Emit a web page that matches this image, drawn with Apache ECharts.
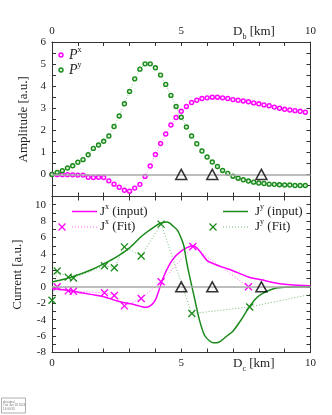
<!DOCTYPE html>
<html>
<head>
<meta charset="utf-8">
<script src="https://cdn.jsdelivr.net/npm/echarts@6/dist/echarts.min.js"></script>
<style>
  html, body { margin: 0; padding: 0; background: #fff; }
  #chart { width: 332px; height: 415px; }
</style>
</head>
<body>
<div id="chart"></div>
<script>
// top panel: sampled amplitudes
var xs = [0, 0.2, 0.4, 0.6, 0.8, 1, 1.2, 1.4, 1.6, 1.8, 2, 2.2, 2.4, 2.6, 2.8, 3, 3.2, 3.4, 3.6, 3.8,
  4, 4.2, 4.4, 4.6, 4.8, 5, 5.2, 5.4, 5.6, 5.8, 6, 6.2, 6.4, 6.6, 6.8, 7, 7.2, 7.4, 7.6, 7.8,
  8, 8.2, 8.4, 8.6, 8.8, 9, 9.2, 9.4, 9.6, 9.8];
var px = [0, -0.01, -0.01, -0.01, -0.02, -0.03, -0.03, -0.13, -0.14, -0.13, -0.14, -0.29, -0.44, -0.58, -0.72, -0.76, -0.62, -0.45, -0.09, 0.38,
  0.9, 1.4, 1.83, 2.24, 2.58, 2.86, 3.08, 3.26, 3.36, 3.44, 3.47, 3.5, 3.5, 3.47, 3.44, 3.39, 3.36, 3.33, 3.29, 3.24,
  3.2, 3.15, 3.11, 3.05, 3.0, 2.95, 2.92, 2.89, 2.86, 2.82];
var py = [0, 0.09, 0.17, 0.29, 0.39, 0.55, 0.67, 0.89, 1.18, 1.33, 1.5, 1.74, 2.17, 2.65, 3.2, 3.76, 4.33, 4.77, 5.01, 5.01,
  4.83, 4.5, 4.08, 3.58, 3.08, 2.59, 2.15, 1.74, 1.39, 1.06, 0.79, 0.56, 0.36, 0.18, 0.05, -0.08, -0.17, -0.24, -0.3, -0.35,
  -0.39, -0.41, -0.44, -0.45, -0.47, -0.48, -0.48, -0.5, -0.5, -0.5];

// bottom panel: input currents (solid)
var jxInX = [0, 0.5, 1, 1.5, 2, 2.5, 2.8, 3.1, 3.4, 3.65, 3.85, 4, 4.12, 4.3, 4.57, 4.8, 5, 5.2, 5.45, 5.6,
  5.8, 6, 6.3, 6.6, 7, 7.6, 8.1, 8.6, 9, 9.5, 10];
var jxIn = [-0.2, -0.4, -0.65, -0.92, -1.2, -1.7, -1.95, -2.1, -2.35, -2.5, -2.2, -1.6, -0.6, 1.1, 2.86, 3.8, 4.35, 4.75, 5.0, 4.75,
  4.0, 3.2, 2.75, 2.4, 1.95, 1.2, 0.85, 0.5, 0.3, 0.18, 0.12];
var jyInX = [0, 0.5, 1, 1.5, 2, 2.5, 3, 3.5, 4, 4.25, 4.45, 4.7, 4.85, 5, 5.1, 5.2, 5.3, 5.5, 5.7, 5.9,
  6.1, 6.25, 6.45, 6.8, 7, 7.3, 7.6, 7.9, 8.15, 8.6, 9, 10];
var jyIn = [0.6, 0.95, 1.45, 2.05, 2.8, 3.65, 4.75, 6.25, 7.4, 7.8, 7.88, 7.35, 6.9, 5.9, 5.0, 3.2, 1.6, -1.2, -4.0, -5.9,
  -6.6, -6.82, -6.75, -5.9, -5.4, -4.1, -2.6, -1.4, -0.8, -0.2, -0.05, 0];

// bottom panel: fitted currents (crosses)
var jxFitX = [0.2, 0.63, 0.83, 2.03, 2.41, 2.8, 3.45, 4.22, 5.45, 7.6];
var jxFit = [0.0, -0.49, -0.53, -0.73, -1.05, -2.32, -1.42, 0.61, 4.9, 0.0];
var jyFitX = [0, 0.2, 0.63, 0.83, 2.03, 2.41, 2.8, 3.45, 4.22, 5.41, 7.65, 10.4];
var jyFit = [-1.63, 1.92, 1.18, 1.08, 2.57, 2.33, 4.86, 3.76, 7.64, -3.26, -2.45, -0.67];

// triangles on the zero line
var triX = [5.0, 6.2, 8.1];
var triY = [0, 0, 0];

var MAG = '#ff00ff', GRN = '#1a8a1a';
var SERIF = '"Liberation Serif", "DejaVu Serif", serif';
var CROSS = 'path://M0,0L10,10M10,0L0,10';

function pairs(a, b) { return a.map(function (v, i) { return [v, b[i]]; }); }

function xAx(grid, pos, labels) {
  return {
    type: 'value', gridIndex: grid, position: pos, min: 0, max: 10, interval: 1,
    axisLine: { onZero: false, lineStyle: { color: '#333', width: 1 } },
    axisTick: { inside: true, length: 4, lineStyle: { color: '#333' } },
    axisLabel: {
      show: labels, margin: 5, fontFamily: SERIF, fontSize: 11, color: '#222',
      formatter: function (v) { return v % 5 === 0 ? String(v) : ''; }
    },
    splitLine: { show: false }
  };
}
function yAx(grid, pos, min, max, iv, labels, fmt, name) {
  return {
    type: 'value', gridIndex: grid, position: pos, min: min, max: max, interval: iv,
    name: name || '', nameLocation: 'middle', nameGap: 17,
    nameTextStyle: { fontFamily: SERIF, fontSize: 13, color: '#222' },
    axisLine: { onZero: false, lineStyle: { color: '#333', width: 1 } },
    axisTick: { inside: true, length: 4, lineStyle: { color: '#333' } },
    axisLabel: { show: labels, margin: 6, fontFamily: SERIF, fontSize: 11, color: '#222', formatter: fmt },
    splitLine: { show: false }
  };
}

var supRich = {
  m: { fontSize: 13, lineHeight: 18, fontFamily: SERIF },
  i: { fontSize: 14, lineHeight: 18, fontFamily: SERIF, fontStyle: 'italic' },
  s: { fontSize: 8, lineHeight: 9, fontFamily: SERIF, verticalAlign: 'top' },
  b: { fontSize: 8, lineHeight: 9, fontFamily: SERIF, verticalAlign: 'bottom' }
};
function rt(text, x, y) {
  return { type: 'text', x: x, y: y, style: { text: text, rich: supRich, fill: '#222', verticalAlign: 'middle' } };
}
function seg(x1, x2, y1, y2, color, w, dash, op) {
  return { type: 'line', shape: { x1: x1, y1: y1, x2: x2, y2: y2 },
    style: { stroke: color, lineWidth: w, lineDash: dash, opacity: op } };
}
function sample(x1, x2, y, color, dotted) {
  return dotted ? seg(x1, x2, y, y, color, 1, [1, 2], 0.6) : seg(x1, x2, y, y, color, 1.5, null, 1);
}
function crossAt(x, y, color) {
  return { type: 'group', children: [
    seg(x - 3.5, x + 3.5, y - 3.5, y + 3.5, color, 1.3, null, 1),
    seg(x + 3.5, x - 3.5, y - 3.5, y + 3.5, color, 1.3, null, 1)
  ] };
}
function dotAt(x, y, color, fill) {
  return { type: 'circle', shape: { cx: x, cy: y, r: 2 }, style: { fill: fill, stroke: color, lineWidth: 1.4 } };
}

var chart = echarts.init(document.getElementById('chart'), null, { renderer: 'canvas' });

var option = {
  animation: false,
  backgroundColor: '#fff',
  grid: [
    { left: 52, right: 21.5, top: 42, height: 154.5 },
    { left: 52, right: 21.5, top: 196.5, height: 156 }
  ],
  xAxis: [
    xAx(0, 'top', true),
    xAx(0, 'bottom', false),
    xAx(1, 'bottom', true),
    xAx(1, 'top', false)
  ],
  yAxis: [
    yAx(0, 'left', -1, 6, 0.5, true, function (v) { return (v >= 0 && Number.isInteger(v)) ? String(v) : ''; }, 'Amplitude [a.u.]'),
    yAx(0, 'right', -1, 6, 0.5, false),
    yAx(1, 'left', -8, 11, 1, true, function (v) { return (v <= 10 && v % 2 === 0) ? String(v) : ''; }, 'Current [a.u.]'),
    yAx(1, 'right', -8, 11, 1, false)
  ],
  graphic: [
    // axis titles with subscripts
    rt('{m|D}{b|b}{m| [km]}', 233, 32),
    rt('{m|D}{b|c}{m| [km]}', 233, 364),
    // top legend
    dotAt(61, 55, MAG, '#ffe0ff'), rt('{i|P}{s|x}', 69, 55),
    dotAt(61, 70, GRN, '#d8f0d8'), rt('{i|P}{s|y}', 69, 70),
    // bottom legend
    sample(72, 97, 211.5, MAG, false), rt('{m|J}{s|x}{m| (input)}', 100, 211.5),
    crossAt(62, 227, MAG), sample(72, 97, 227, MAG, true), rt('{m|J}{s|x}{m| (Fit)}', 100, 227),
    sample(223, 248, 211.5, GRN, false), rt('{m|J}{s|y}{m| (input)}', 255, 211.5),
    crossAt(213, 227, GRN), sample(223, 248, 227, GRN, true), rt('{m|J}{s|y}{m| (Fit)}', 255, 227),
    // small stamp box
    { type: 'rect', shape: { x: 1.5, y: 398, width: 24, height: 15 }, style: { fill: '#fff', stroke: '#999', lineWidth: 0.8 } },
    { type: 'text', x: 3, y: 400, style: { text: 'dr.output\nTue Jun 18 2024\n14:00:33', fontSize: 3, lineHeight: 3.6, fill: '#777' } }
  ],
  series: [
    // gray zero lines
    { type: 'line', xAxisIndex: 0, yAxisIndex: 0, data: [], z: 1,
      markLine: { silent: true, symbol: 'none', label: { show: false }, data: [{ yAxis: 0 }],
        lineStyle: { color: '#a8a8a8', width: 1.5, type: 'solid' } } },
    { type: 'line', xAxisIndex: 2, yAxisIndex: 2, data: [], z: 1,
      markLine: { silent: true, symbol: 'none', label: { show: false }, data: [{ yAxis: 0 }],
        lineStyle: { color: '#a8a8a8', width: 1.5, type: 'solid' } } },

    // top panel
    { name: 'Px', type: 'line', xAxisIndex: 0, yAxisIndex: 0, data: pairs(xs, px), z: 3,
      symbol: 'circle', symbolSize: 4, showAllSymbol: true,
      lineStyle: { color: MAG, width: 1, type: [1, 2], opacity: 0.5 },
      itemStyle: { color: '#ffe0ff', borderColor: MAG, borderWidth: 1.4 } },
    { name: 'Py', type: 'line', xAxisIndex: 0, yAxisIndex: 0, data: pairs(xs, py), z: 3,
      symbol: 'circle', symbolSize: 4, showAllSymbol: true,
      lineStyle: { color: GRN, width: 1, type: [1, 2], opacity: 0.5 },
      itemStyle: { color: '#d8f0d8', borderColor: GRN, borderWidth: 1.4 } },
    { type: 'scatter', xAxisIndex: 0, yAxisIndex: 0, data: pairs(triX, triY), z: 5,
      symbol: 'triangle', symbolSize: [11, 10],
      itemStyle: { color: 'rgba(0,0,0,0)', borderColor: '#000', borderWidth: 1.5 } },

    // bottom panel
    { name: 'Jx (input)', type: 'line', xAxisIndex: 2, yAxisIndex: 2, data: pairs(jxInX, jxIn), z: 3,
      smooth: 0.3, showSymbol: false, lineStyle: { color: MAG, width: 1.5 } },
    { name: 'Jy (input)', type: 'line', xAxisIndex: 2, yAxisIndex: 2, data: pairs(jyInX, jyIn), z: 3,
      smooth: 0.3, showSymbol: false, lineStyle: { color: GRN, width: 1.5 } },
    { name: 'Jx (Fit)', type: 'line', xAxisIndex: 2, yAxisIndex: 2, data: pairs(jxFitX, jxFit), z: 4,
      symbol: CROSS, symbolSize: 7, showAllSymbol: true,
      lineStyle: { color: MAG, width: 1, type: [1, 2], opacity: 0.6 },
      itemStyle: { color: 'rgba(0,0,0,0)', borderColor: MAG, borderWidth: 1.3 } },
    { name: 'Jy (Fit)', type: 'line', xAxisIndex: 2, yAxisIndex: 2, data: pairs(jyFitX, jyFit), z: 4,
      symbol: CROSS, symbolSize: 7, showAllSymbol: true,
      lineStyle: { color: GRN, width: 1, type: [1, 2], opacity: 0.6 },
      itemStyle: { color: 'rgba(0,0,0,0)', borderColor: GRN, borderWidth: 1.3 } },
    { type: 'scatter', xAxisIndex: 2, yAxisIndex: 2, data: pairs(triX, triY), z: 5,
      symbol: 'triangle', symbolSize: [11, 10],
      itemStyle: { color: 'rgba(0,0,0,0)', borderColor: '#000', borderWidth: 1.5 } }
  ]
};

chart.setOption(option);
</script>
</body>
</html>
